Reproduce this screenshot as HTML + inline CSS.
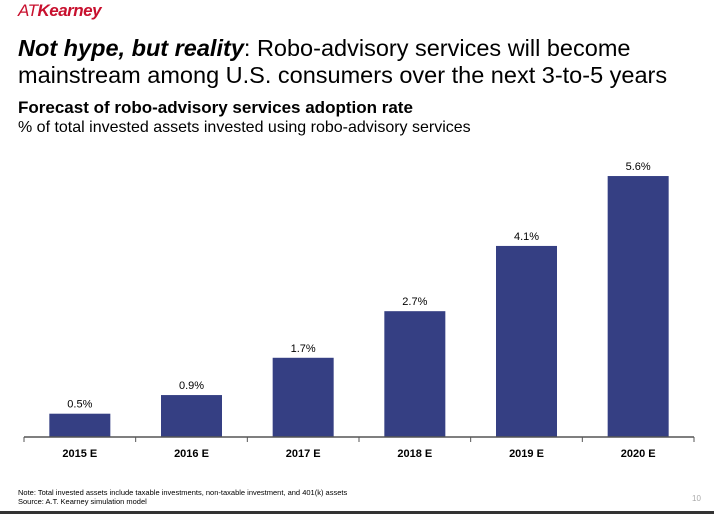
<!DOCTYPE html>
<html><head><meta charset="utf-8"><style>
body{margin:0;width:714px;height:514px;background:#fff;overflow:hidden;position:relative;font-family:"Liberation Sans",sans-serif}
.a{position:absolute;white-space:nowrap}
</style></head><body>
<div class="a" style="left:18px;top:1px;font-size:17px;color:#c8102e;font-style:italic;letter-spacing:-0.5px"><span style="font-weight:normal">AT</span><b>Kearney</b></div>
<div class="a" style="left:18px;top:35px;font-size:23.5px;line-height:27px;color:#000"><b><i>Not hype, but reality</i></b>: Robo-advisory services will become<br>mainstream among U.S. consumers over the next 3-to-5 years</div>
<div class="a" style="left:18px;top:98px;font-size:17px;font-weight:bold">Forecast of robo-advisory services adoption rate</div>
<div class="a" style="left:18px;top:119px;font-size:16px">% of total invested assets invested using robo-advisory services</div>
<svg id="chart" width="714" height="514" style="position:absolute;left:0;top:0"></svg>
<div class="a" style="left:18px;top:488px;font-size:7.5px;line-height:9px">Note: Total invested assets include taxable investments, non-taxable investment, and 401(k) assets<br>Source: A.T. Kearney simulation model</div>
<div class="a" style="left:692px;top:494px;font-size:8px;color:#aaa">10</div>
<div class="a" style="left:0;top:511px;width:714px;height:3px;background:#333"></div>
<script>
const categories=["2015 E","2016 E","2017 E","2018 E","2019 E","2020 E"];
const values=[0.5,0.9,1.7,2.7,4.1,5.6];
const labels=["0.5%","0.9%","1.7%","2.7%","4.1%","5.6%"];
const svg=document.getElementById('chart');
const NS='http://www.w3.org/2000/svg';
const x0=24,x1=694,base=437,pxPer=46.6;
const cw=(x1-x0)/categories.length;
const xc=i=>x0+cw*(i+0.5);
const y=v=>base-v*pxPer;
function mk(t,a){const e=document.createElementNS(NS,t);for(const k in a)e.setAttribute(k,a[k]);svg.appendChild(e);return e;}
categories.forEach((c,i)=>{
 const r=mk('rect',{x:xc(i)-30.5,y:y(values[i]),width:61,height:base-y(values[i]),fill:'#353f83'});
 
 
 const t=mk('text',{x:xc(i),y:y(values[i])-6,'text-anchor':'middle','font-size':'11','font-family':'Liberation Sans, sans-serif'});
 t.textContent=labels[i];
 
 
 const l=mk('text',{x:xc(i),y:base+20,'text-anchor':'middle','font-size':'11','font-weight':'bold','font-family':'Liberation Sans, sans-serif'});
 l.textContent=c;
 
 
});
const ax=mk('line',{x1:x0,x2:x1,y1:base,y2:base,stroke:'#555','stroke-width':1.5});


for(let i=0;i<=categories.length;i++){
 const tk=mk('line',{x1:x0+cw*i,x2:x0+cw*i,y1:base,y2:base+5,stroke:'#555','stroke-width':1});
 
 
}
</script>
</body></html>
